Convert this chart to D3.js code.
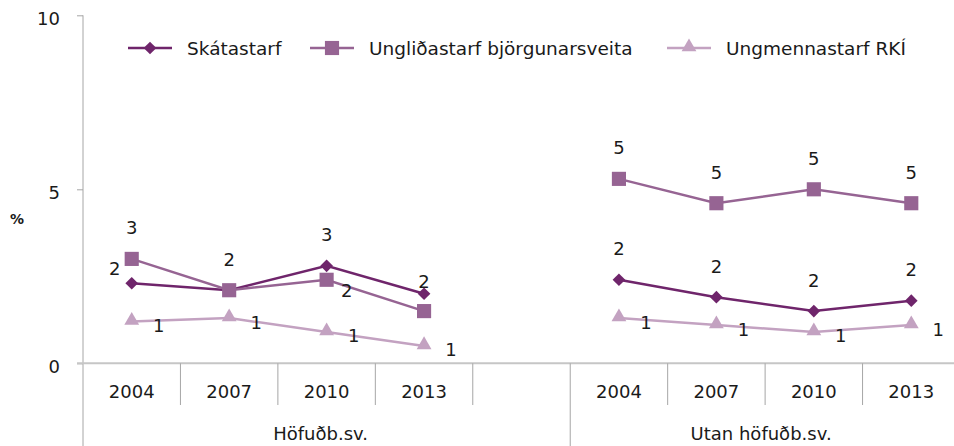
<!DOCTYPE html>
<html>
<head>
<meta charset="utf-8">
<script src="https://cdn.jsdelivr.net/npm/d3@7"></script>
<style>
  body { margin: 0; background: #fff; }
  text { font-family: "DejaVu Sans", sans-serif; fill: #1a1a1a; }
</style>
</head>
<body>
<div id="chart"></div>
<script>
var years = ["2004", "2007", "2010", "2013"];
var regions = ["Höfuðb.sv.", "Utan höfuðb.sv."];
var seriesNames = ["Skátastarf", "Ungliðastarf björgunarsveita", "Ungmennastarf RKÍ"];
// values per region, in the order of years
var skatastarf = [[2.3, 2.1, 2.8, 2.0], [2.4, 1.9, 1.5, 1.8]];
var unglidastarf = [[3.0, 2.1, 2.4, 1.5], [5.3, 4.6, 5.0, 4.6]];
var ungmennastarf = [[1.2, 1.3, 0.9, 0.5], [1.3, 1.1, 0.9, 1.1]];
var yTicks = [0, 5, 10];

var width = 954, height = 446;
var margin = { top: 15, left: 83, bottom: 83 };
var axisRight = 960;

var colors = ["#6f256b", "#966493", "#c3a2c1"];

var svg = d3.select("#chart").append("svg")
    .attr("width", width)
    .attr("height", height);

// marker shapes: diamond (rotated square), square, triangle
function marker(sel, i) {
    if (i === 0) {
        sel.attr("d", d3.symbol().type(d3.symbolSquare).size(80)());
        return 45;
    }
    if (i === 1) {
        sel.attr("d", d3.symbol().type(d3.symbolSquare).size(200)());
        return 0;
    }
    sel.attr("d", d3.symbol().type(d3.symbolTriangle).size(95)());
    return 0;
}

// slots: 4 years, a blank slot, 4 years
var slots = [];
regions.forEach(function (r, gi) {
    years.forEach(function (y) { slots.push(r + "|" + y); });
    if (gi === 0) slots.push("gap");
});

var x = d3.scaleBand().domain(slots).range([margin.left, axisRight]);
var y = d3.scaleLinear().domain([0, 10]).range([height - margin.bottom + 0.3, margin.top + 0.3]);
var y0 = y(0);

// y axis
var yAxis = svg.append("g")
    .attr("transform", "translate(" + margin.left + ",0)")
    .call(d3.axisLeft(y).tickValues(yTicks).tickSize(6).tickPadding(17));
yAxis.select(".domain").remove();
yAxis.selectAll("line").attr("stroke", "#a6a6a6");
yAxis.selectAll("text").attr("font-size", 18).attr("fill", "#1a1a1a")
    .attr("font-family", "DejaVu Sans").attr("dy", "0.52em");
svg.append("line")
    .attr("x1", margin.left).attr("x2", margin.left)
    .attr("y1", y(10)).attr("y2", height)
    .attr("stroke", "#a6a6a6");

svg.append("text")
    .attr("x", 17).attr("y", 224)
    .attr("text-anchor", "middle")
    .attr("font-size", 14).attr("font-weight", "bold")
    .text("%");

// x axis
svg.append("line")
    .attr("x1", margin.left - 6).attr("x2", axisRight)
    .attr("y1", y0).attr("y2", y0)
    .attr("stroke", "#c6c6c6").attr("stroke-width", 2);

slots.forEach(function (s, i) {
    if (i === 0) return;
    var xx = x(s);
    var isGroupEdge = s.indexOf(regions[1]) === 0 && slots[i - 1] === "gap";
    svg.append("line")
        .attr("x1", xx).attr("x2", xx)
        .attr("y1", y0).attr("y2", isGroupEdge ? height : 405)
        .attr("stroke", "#a6a6a6");
});

svg.append("g").selectAll("text")
    .data(slots.filter(function (s) { return s !== "gap"; }))
    .join("text")
    .attr("x", function (s) { return x(s) + x.bandwidth() / 2; })
    .attr("y", 398)
    .attr("text-anchor", "middle")
    .attr("font-size", 18)
    .text(function (s) { return s.split("|")[1]; });

var groupSpans = [[margin.left, x(regions[1] + "|" + years[0])], [x(regions[1] + "|" + years[0]), width + 10]];
svg.append("g").selectAll("text")
    .data(regions)
    .join("text")
    .attr("x", function (r, i) { return (groupSpans[i][0] + groupSpans[i][1]) / 2 - 6; })
    .attr("y", 440)
    .attr("text-anchor", "middle")
    .attr("font-size", 18)
    .text(function (r) { return r; });

// series
var allSeries = [skatastarf, unglidastarf, ungmennastarf];
var line = d3.line()
    .x(function (d) { return x(d.slot) + x.bandwidth() / 2; })
    .y(function (d) { return y(d.v); });

// default label offsets per series: above, above, right
var labelOffset = [[0, -31], [0, -31], [27, 4]];
// a few labels Excel moved
var labelOverride = {
    "0|0|0": [-17, -15],
    "0|0|3": [0, -12],
    "1|0|2": [20, 11]
};
var placed = [];

allSeries.forEach(function (ser, si) {
    var g = svg.append("g");
    ser.forEach(function (vals, gi) {
        var pts = vals.map(function (v, k) { return { slot: regions[gi] + "|" + years[k], v: v, key: si + "|" + gi + "|" + k }; });
        g.append("path")
            .datum(pts)
            .attr("fill", "none")
            .attr("stroke", colors[si])
            .attr("stroke-width", 2.5)
            .attr("d", line);
        g.selectAll(null)
            .data(pts)
            .join("path")
            .each(function (d) {
                var rot = marker(d3.select(this), si);
                var dy = si === 2 ? -1 : 0;
                d3.select(this).attr("transform", "translate(" + (x(d.slot) + x.bandwidth() / 2) + "," + (y(d.v) + dy) + ") rotate(" + rot + ")");
            })
            .attr("fill", colors[si]);

        pts.forEach(function (d) {
            var o = labelOverride[d.key] || labelOffset[si];
            var lx = x(d.slot) + x.bandwidth() / 2 + o[0];
            var ly = y(d.v) + o[1] + 6.5;
            var txt = d3.format(".0f")(d.v + 1e-9);
            // Excel stacks identical labels on top of each other; draw only one
            var dup = placed.some(function (p) { return p.t === txt && Math.abs(p.x - lx) < 4 && Math.abs(p.y - ly) < 4; });
            if (dup) return;
            placed.push({ x: lx, y: ly, t: txt });
            g.append("text")
                .attr("x", lx).attr("y", ly)
                .attr("text-anchor", "middle")
                .attr("font-family", "Liberation Sans, Arial, sans-serif")
                .attr("font-size", 18)
                .attr("fill", "#000")
                .text(txt);
        });
    });
});

// legend
var legendX = [128, 310, 667];
var legend = svg.append("g");
seriesNames.forEach(function (name, i) {
    var lg = legend.append("g").attr("transform", "translate(" + legendX[i] + ",48)");
    lg.append("line").attr("x1", 0).attr("x2", 44).attr("stroke", colors[i]).attr("stroke-width", 2.5);
    var m = lg.append("path").attr("fill", colors[i]);
    var rot = marker(m, i);
    m.attr("transform", "translate(22," + (i === 2 ? -1 : 0) + ") rotate(" + rot + ")");
    lg.append("text")
        .attr("x", 59).attr("y", 7)
        .attr("font-size", 18.5)
        .text(name);
});
</script>
</body>
</html>
